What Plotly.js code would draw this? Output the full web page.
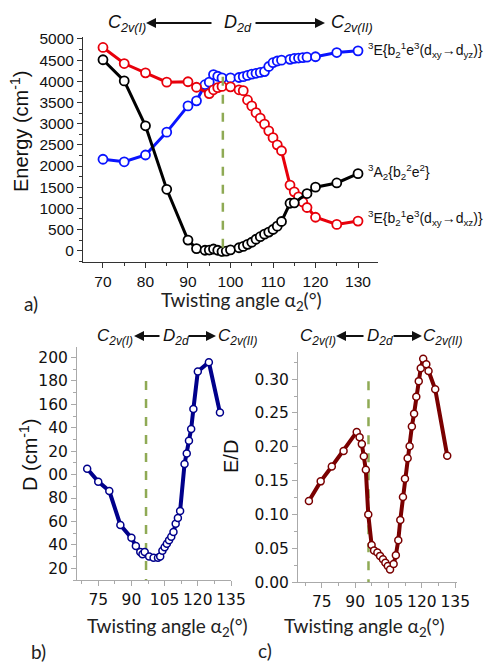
<!DOCTYPE html>
<html><head><meta charset="utf-8">
<script src="https://cdn.plot.ly/plotly-3.0.1.min.js"></script>
<style>html,body{margin:0;padding:0;background:#fff}#chart{width:486px;height:665px}</style>
</head><body><div id="chart"></div>
<script>
// ---- Panel a: energies (cm-1) vs twisting angle ----
const angleA2 = [70,75,80,85,90,92,94,95,96,97,98,99,100,102,103,104,105,106,107,108,109,110,111,112,114,115,118,120,125,130];
const energyA2 = [4510,4010,2950,1450,250,50,10,15,40,10,-20,-10,20,70,100,150,200,270,330,390,440,500,580,690,1120,1130,1350,1500,1600,1820];

const angleExz = [70,75,80,85,90,92,95,96,97,98,100,102,103,104,105,106,107,108,109,110,111,112,114,115,116,117,118,120,125,130];
const energyExz = [4800,4420,4200,3980,3990,3860,3710,3800,3850,3880,3870,3800,3780,3560,3420,3260,3130,2990,2830,2670,2500,2360,1550,1390,1270,1150,1020,790,620,700];

const angleEyz = [70,75,80,85,90,92,94,95,96,97,98,100,102,103,104,105,106,107,108,109,110,111,112,114,115,116,117,118,120,125,130];
const energyEyz = [2160,2100,2260,2800,3420,3540,3920,3980,4160,4120,4080,4080,4090,4110,4140,4170,4190,4210,4230,4350,4440,4480,4500,4520,4540,4550,4560,4570,4580,4680,4720];

const d2dAngleA = 98.2;
const d2dLineA = [4110, -150];

// ---- Panel b: D (cm-1) ----
const angleD = [70,75,80,85,90,92,94,95,96,98,100,102,103,104,105,106,107,108,109,110,111,112,114,115,116,117,118,120,125,130];
const valueD = [105,94,86,57,46,39,34,32,34,30,29,29,30,35,38,41,44,47,51,58,63,69,109,118,129,139,156,188,196,153];
const d2dAngleB = 96.6;
const d2dLineB = [180, 10];

// ---- Panel c: E/D ----
const angleED = [69.2,74.5,79.5,84.8,90.7,92,93,93.9,94.8,95.9,97.4,98.5,100,101.2,102.5,103.6,104.7,105.7,107.3,108.3,109.4,110.3,111.5,112.4,113.6,114.5,115.5,116.5,117.5,118.6,119.5,120.6,122,123,126,131.4];
const valueED = [0.120,0.149,0.171,0.194,0.222,0.214,0.204,0.186,0.166,0.100,0.055,0.047,0.044,0.039,0.034,0.029,0.024,0.019,0.027,0.040,0.062,0.092,0.126,0.153,0.183,0.201,0.230,0.249,0.274,0.297,0.316,0.330,0.322,0.312,0.285,0.187];
const d2dAngleC = 96.0;
const d2dLineC = [0.297, 0];

// ---- Tick labels ----
const ticksA_x = [70,80,90,100,110,120,130];
const ticksA_y = [0,500,1000,1500,2000,2500,3000,3500,4000,4500,5000];
const ticksB_x = [75,90,105,120,135];
const ticksB_y = [20,40,60,80,100,120,140,160,180,200];
const ticksB_ytext = ["20","40","60","80","00","20","40","160","180","200"];
const ticksC_x = [75,90,105,120,135];
const ticksC_y = [0,0.05,0.10,0.15,0.20,0.25,0.30];
const ticksC_ytext = ["0.00","0.05","0.10","0.15","0.20","0.25","0.30"];

const W = 486, H = 665;
const px = x => x / W;
const py = y => 1 - y / H;

const dashColor = '#8faa55';
const traces = [
  {x: angleEyz, y: energyEyz, xaxis:'x', yaxis:'y', mode:'lines+markers',
   line:{color:'#0a14ff', width:3}, marker:{symbol:'circle', size:9, color:'#fff', line:{color:'#0a14ff', width:1.8}}},
  {x: angleExz, y: energyExz, xaxis:'x', yaxis:'y', mode:'lines+markers',
   line:{color:'#e8000b', width:3}, marker:{symbol:'circle', size:9, color:'#fff', line:{color:'#e8000b', width:1.8}}},
  {x: angleA2, y: energyA2, xaxis:'x', yaxis:'y', mode:'lines+markers',
   line:{color:'#000', width:3}, marker:{symbol:'circle', size:9, color:'#fff', line:{color:'#000', width:1.8}}},
  {x: [d2dAngleA, d2dAngleA], y: d2dLineA, xaxis:'x', yaxis:'y', mode:'lines',
   line:{color:dashColor, width:2.5, dash:'dash'}},

  {x: [d2dAngleB, d2dAngleB], y: d2dLineB, xaxis:'x2', yaxis:'y2', mode:'lines',
   line:{color:dashColor, width:2.5, dash:'dash'}},
  {x: angleD, y: valueD, xaxis:'x2', yaxis:'y2', mode:'lines+markers',
   line:{color:'#00008b', width:4}, marker:{symbol:'circle', size:7, color:'#fff', line:{color:'#00008b', width:1.5}}},

  {x: [d2dAngleC, d2dAngleC], y: d2dLineC, xaxis:'x3', yaxis:'y3', mode:'lines',
   line:{color:dashColor, width:2.5, dash:'dash'}},
  {x: angleED, y: valueED, xaxis:'x3', yaxis:'y3', mode:'lines+markers',
   line:{color:'#7a0000', width:4}, marker:{symbol:'circle', size:7, color:'#fff', line:{color:'#7a0000', width:1.5}}}
];

const axA = {showgrid:false, zeroline:false, showline:true, linecolor:'#333', linewidth:1,
  ticks:'outside', ticklen:5, tickcolor:'#333', tickfont:{family:'Liberation Sans, Arial', size:15.5, color:'#111'}};
const axBC = {showgrid:false, zeroline:false, showline:true, linecolor:'#aaa', linewidth:1,
  ticks:'outside', ticklen:5, tickcolor:'#aaa', tickfont:{family:'DejaVu Sans', size:15.5, color:'#111'}};

const ann = [];
function txt(x, y, text, opts) {
  ann.push(Object.assign({xref:'paper', yref:'paper', x:px(x), y:py(y), text:text, showarrow:false,
    xanchor:'left', yanchor:'middle', font:{family:'Liberation Sans, Arial', size:17, color:'#111'}}, opts||{}));
}
function arrow(xHead, y, tailDx) {
  ann.push({xref:'paper', yref:'paper', x:px(xHead), y:py(y), ax:tailDx, ay:0, text:'',
    showarrow:true, arrowhead:2, arrowsize:1, arrowwidth:2, arrowcolor:'#111'});
}
function symLabels(cX, dX, c2X, y, a1Head, a1Dx, a2Head, a2Dx, fs) {
  const f = {family:'Liberation Sans, Arial', size:fs, color:'#111'};
  txt(cX, y, '<i>C</i><sub><i>2v(I)</i></sub>', {font:f});
  txt(dX, y, '<i>D</i><sub><i>2d</i></sub>', {font:f});
  txt(c2X, y, '<i>C</i><sub><i>2v(II)</i></sub>', {font:f});
  arrow(a1Head, y - 1, a1Dx);
  arrow(a2Head, y - 1, a2Dx);
}
symLabels(106, 222, 329, 24, 146, 67, 325, -71, 18);
symLabels(95, 161, 216, 337, 134, 27, 216, -29, 17);
symLabels(298, 365, 421, 337, 336, 29, 422, -30, 17);

const lblFont = {family:'Liberation Sans, Arial', size:14, color:'#111'};
txt(366, 50, '<sup>3</sup>E{b<sub>2</sub><sup>1</sup>e<sup>3</sup>(d<sub>xy</sub>→d<sub>yz</sub>)}', {font:lblFont});
txt(366, 172, '<sup>3</sup>A<sub>2</sub>{b<sub>2</sub><sup>2</sup>e<sup>2</sup>}', {font:lblFont});
txt(366, 218, '<sup>3</sup>E{b<sub>2</sub><sup>1</sup>e<sup>3</sup>(d<sub>xy</sub>→d<sub>xz</sub>)}', {font:lblFont});

const titleFont = {family:'Liberation Sans, Arial', size:20, color:'#111'};
txt(20, 132, 'Energy (cm<sup>-1</sup>)', {textangle:-90, xanchor:'center', font:titleFont});
txt(28, 455, 'D (cm<sup>-1</sup>)', {textangle:-90, xanchor:'center', font:titleFont});
txt(231, 457, 'E/D', {textangle:-90, xanchor:'center', font:titleFont});

const twFont = {family:'Lato', size:19, color:'#222'};
txt(241, 301, 'Twisting angle α<sub>2</sub>(°)', {xanchor:'center', font:twFont});
txt(167, 627, 'Twisting angle α<sub>2</sub>(°)', {xanchor:'center', font:twFont});
txt(364, 627, 'Twisting angle α<sub>2</sub>(°)', {xanchor:'center', font:twFont});
txt(22, 303, 'a)', {font:twFont});
txt(29, 651, 'b)', {font:twFont});
txt(256, 650, 'c)', {font:twFont});

const layout = {
  width: W, height: H, margin:{l:0, r:0, t:0, b:0}, showlegend:false,
  paper_bgcolor:'#fff', plot_bgcolor:'rgba(0,0,0,0)',
  xaxis: Object.assign({}, axA, {domain:[px(83), px(378)], range:[65.3,134.7], tickvals:ticksA_x, anchor:'y',
    minor:{ticks:'outside', dtick:5, tick0:70, ticklen:3, tickcolor:'#333'}}),
  yaxis: Object.assign({}, axA, {domain:[py(262), py(37)], range:[-267,5047], tickvals:ticksA_y, anchor:'x',
    minor:{ticks:'outside', dtick:250, tick0:0, ticklen:3, tickcolor:'#333'}}),
  xaxis2: Object.assign({}, axBC, {domain:[px(77), px(231)], range:[65.4,135], tickvals:ticksB_x, anchor:'y2',
    minor:{ticks:'outside', dtick:7.5, tick0:75, ticklen:3, tickcolor:'#aaa'}}),
  yaxis2: Object.assign({}, axBC, {domain:[py(580), py(347)], range:[10,209], tickvals:ticksB_y, ticktext:ticksB_ytext, anchor:'x2',
    minor:{ticks:'outside', dtick:10, tick0:0, ticklen:3, tickcolor:'#aaa'}}),
  xaxis3: Object.assign({}, axBC, {domain:[px(298), px(457)], range:[64.3,135.8], tickvals:ticksC_x, anchor:'y3',
    minor:{ticks:'outside', dtick:7.5, tick0:75, ticklen:3, tickcolor:'#aaa'}}),
  yaxis3: Object.assign({}, axBC, {domain:[py(582.3), py(352)], range:[0,0.34], tickvals:ticksC_y, ticktext:ticksC_ytext, anchor:'x3',
    minor:{ticks:'outside', dtick:0.025, tick0:0, ticklen:3, tickcolor:'#aaa'}}),
  annotations: ann
};
Plotly.newPlot('chart', traces, layout, {staticPlot:true, displayModeBar:false});
</script>
</body></html>
